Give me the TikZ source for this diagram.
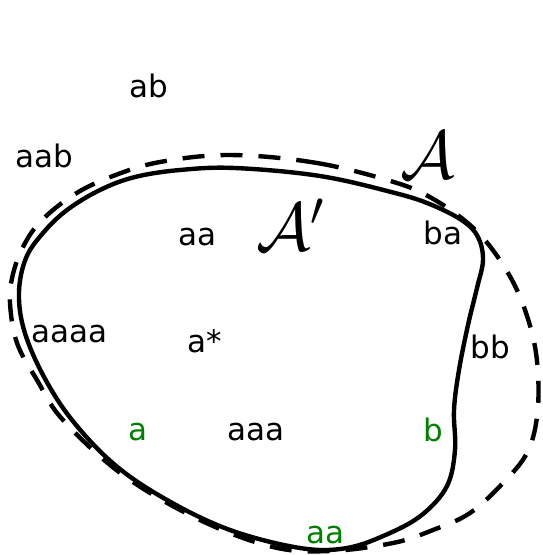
\documentclass[tikz,border=0pt]{standalone}
\usepackage{fix-cm}
\usepackage{fontspec}
\setmainfont{DejaVu Sans}
\usetikzlibrary{positioning}
\definecolor{wordGreen}{RGB}{0,128,0}
\definecolor{wordBlack}{RGB}{0,0,0}

\begin{document}
\begin{tikzpicture}[
    x=1pt, y=-1pt,
    word/.style={
        anchor=base, inner sep=0pt, text=wordBlack,
        font=\fontsize{31}{37}\selectfont
    },
    accepted/.style={word, text=wordGreen},
    langname/.style={
        anchor=base, inner sep=0pt,
        font=\fontsize{68}{74}\selectfont
    },
    outerset/.style={draw, line width=4.4pt, dash pattern=on 22pt off 16pt},
    innerset/.style={draw, line width=4.4pt},
]
\useasboundingbox (0,0) rectangle (542,555);

% ============================================================
%  SETS
% ============================================================
\draw[outerset] plot[smooth cycle, tension=0.6] coordinates {
    (230,155) (317,163) (397,183) (435,200) (470,225) (495,253)
    (517,290) (532,333) (538,373) (537,417) (527,453) (503,483)
    (470,513) (433,530) (393,543) (330,551) (273,547) (200,520)
    (123,475) (63,420) (37,380) (17,343) (10,303) (13,274)
    (24,245) (42,220) (75,194) (113,176) (160,162)};

\draw[innerset] plot[smooth cycle, tension=0.6] coordinates {
    (180,170) (235,168) (320,176) (395,193) (432,205) (463,221)
    (478,237) (483,260) (477,288) (468,325) (459,370) (454,410)
    (455,450) (447,486) (423,514) (390,533) (347,548) (300,548)
    (230,530) (167,500) (115,465) (72,420) (43,375) (24,330)
    (19,292) (26,258) (43,233) (67,210) (100,190) (135,177)};

% ============================================================
%  LANGUAGE NAMES
% ============================================================
\node[langname] (langA) at (428,178) {$\mathcal{A}$};
\node[langname] (langAprime) at (290,250) {$\mathcal{A}'$};

% ============================================================
%  WORDS
% ============================================================
\node[word] (wAb) at (149,97) {ab};
\node[word] (wAab) at (44,167) {aab};
\node[word] (wAa) at (197,245) {aa};
\node[word] (wBa) at (443,244) {ba};
\node[word] (wAaaa) at (69,342) {aaaa};
\node[word] (wAstar) at (205,352) {a*};
\node[word] (wBb) at (490,358) {bb};
\node[accepted] (wA) at (138,440) {a};
\node[word] (wAaa) at (256,440) {aaa};
\node[accepted] (wB) at (433,441) {b};
\node[accepted] (wAaGreen) at (325,543) {aa};

\end{tikzpicture}
\end{document}
